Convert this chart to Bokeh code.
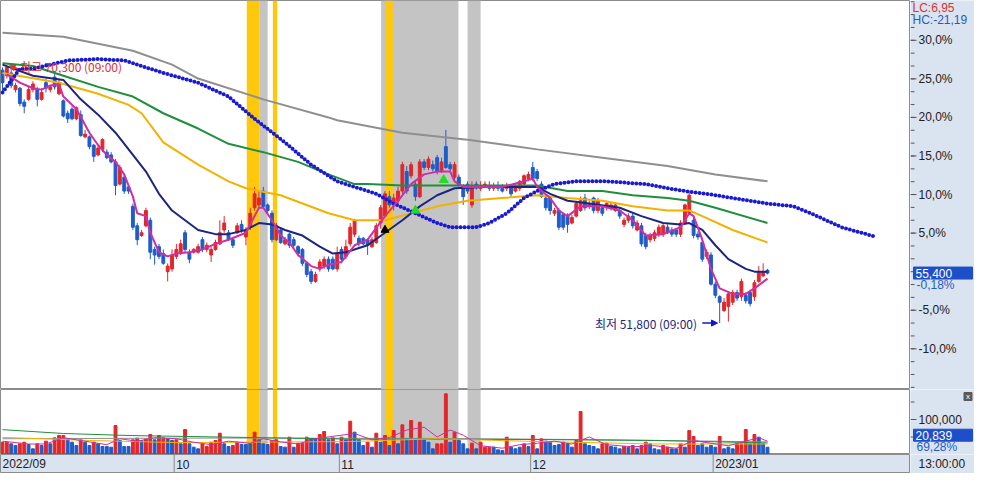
from bokeh.plotting import figure
from bokeh.layouts import column, row
from bokeh.models import Range1d, ColumnDataSource, BoxAnnotation, Arrow, NormalHead
from bokeh.core.properties import value
from bokeh.embed import file_html
from bokeh.resources import INLINE

# ---------------- data (half-day candles, 2022/09 .. 2023/01) ----------------
opens = [70000,69600,69800,68600,68700,67700,67900,68600,68600,67900,69100,68600,69500,68300,67800,66900,67200,66500,66800,65200,
         65200,64600,63900,64300,64100,63900,63400,61800,62300,61600,60200,58800,58100,58800,59200,57100,57300,56800,55500,55700,
         56600,56900,58300,56900,56900,56900,57800,57100,56700,57100,57500,58500,58300,57800,58300,58900,58000,58700,60100,60300,
         61300,60300,59700,57800,58500,57500,58200,57800,57300,57100,56100,55500,54800,55700,55900,56400,56400,55700,57100,56600,
         57500,58200,57900,57900,57800,57300,57600,59000,59500,60900,60300,60600,61300,62700,62400,61800,60900,63400,63000,63200,
         63700,62700,64500,63200,62300,62300,61700,61800,60300,61800,61500,61600,61700,61500,61700,61600,61500,61600,61300,61500,
         61800,62200,63000,62700,61800,60800,60800,59700,59900,59600,59500,59000,59500,59900,60800,60200,60800,59900,60100,60100,
         60100,59900,59900,58900,59200,59500,58500,58800,58100,57800,57900,58200,58200,58700,58500,58500,58200,59000,59700,59200,
         58200,57600,56600,56700,54600,53700,52700,53000,53300,54000,53700,53800,54000,53700,54800,55200,55600]
highs = [70200,70300,70100,69100,68800,67900,68800,69200,68800,68700,69400,68900,69800,69400,67900,67100,67400,67400,67100,65700,
         65300,64700,64600,65100,64300,64100,63600,63200,62500,61800,60400,59000,58500,60100,59400,57300,57500,57100,56100,57100,
         57500,57800,58500,57100,57200,57500,58000,57600,57300,57800,59200,59500,58500,58000,59000,59200,58700,60100,61600,61300,
         61600,60400,59900,59000,58700,58000,58300,58000,57400,57200,56200,55700,55500,56400,56600,56600,56600,57300,57300,57800,
         59000,59300,58100,58000,57900,58000,59000,60300,61300,61300,61100,61600,63400,63100,63400,62100,63600,63600,63800,63500,
         63900,63700,65700,63400,63400,62500,61800,62000,62000,62000,62000,62000,62000,61900,62000,61800,61900,61800,61800,62100,
         62500,62700,63400,62900,62000,61000,60900,60100,60100,59700,59700,59600,60600,60900,61100,60600,60900,60800,60300,60600,
         60500,60500,60100,59400,59700,59700,59200,59000,58300,58300,58500,58900,59000,58900,58700,58600,59200,60400,61200,59400,
         58400,57800,57100,56900,54800,53800,53600,54100,54200,54200,55000,54000,54200,54900,55900,56100,55700]
lows = [68300,69400,68700,68400,67400,66900,67800,68400,67400,67800,68400,68400,68600,68200,66600,66200,66400,66400,65200,65100,
        64300,63400,63800,64100,63600,63300,61000,61700,61100,61100,58500,57400,58000,58700,56400,56000,56400,56000,54800,55500,
        56400,56700,56900,56100,56800,56800,56900,56900,56200,57000,57400,58300,57700,57200,58200,58300,57400,58500,59900,60100,
        60100,59600,57600,57700,57500,57400,57200,57200,56600,55900,55100,54600,54700,55500,55700,55500,55600,55500,56100,56400,
        57300,58000,57300,57400,56700,57200,57500,58600,59400,60100,59900,60400,61100,61100,62200,60600,60800,62800,62800,62700,
        62500,62600,62900,62700,62100,61500,60300,61100,60100,61400,61300,61500,61300,61300,61300,61200,61300,60900,61200,61300,
        61700,62000,62000,62000,60800,59900,59600,59500,58500,58500,58300,58900,59400,59800,59900,60000,59700,59700,59500,59900,
        59900,59800,59300,58700,59000,58600,58400,57300,57100,57600,57700,58000,58000,58200,58000,58000,58000,58900,59600,57900,
        57800,56200,56400,54500,53600,51800,52600,51900,53100,53400,53400,53200,53000,53400,54700,55100,55300]
closes = [69100,70200,68900,68900,67600,67400,68600,69000,67900,68400,68700,68800,68800,69100,66700,66500,66500,67300,65300,65400,
          64500,63800,64400,65000,63700,63400,61700,63000,61300,61300,58700,57800,58300,59900,56900,56700,56600,56100,55900,56700,
          57100,57500,57100,56400,57100,57300,57100,57400,57100,57600,58300,59000,57800,57400,58800,58500,58500,59700,61100,60800,
          60200,59900,57800,58800,57600,57800,57400,57400,56800,56100,55300,54800,55300,56200,56400,55700,55700,56800,56400,57300,
          58700,59200,57500,57500,57400,57800,58800,60100,61100,60300,60800,61300,63200,61300,63200,60900,63400,63000,63600,62900,
          62700,63400,63000,62900,63200,61700,60900,61300,61700,61600,61700,61800,61500,61700,61500,61300,61700,61100,61700,62000,
          62400,62500,62200,62200,60900,60100,59900,59900,58700,58700,58900,59400,60400,60600,60100,60400,59900,60600,59700,60400,
          60300,60300,59500,59200,59500,58800,59000,57500,57300,58100,58300,58700,58800,58300,58200,58200,59000,60300,61000,58100,
          58000,56400,56900,54600,53800,53300,53300,53900,54000,53600,54800,53400,53200,54700,55500,55500,55400]
volumes = [35200,35200,30500,25700,30500,35200,28600,16200,30500,25700,38100,30500,47600,54300,54300,44700,35200,25700,41900,35200,
           25700,35200,30500,22800,22800,20900,82800,40000,22800,22800,41900,46600,40000,44700,57100,41900,54300,47600,44700,40000,
           41900,30500,71400,30500,20900,16200,30500,22800,35200,40000,60900,30500,22800,25700,35200,28600,28600,30500,63800,41900,
           30500,28600,40000,41900,22800,20900,49500,20900,32400,32400,49500,44700,44700,57100,65700,41900,47600,30500,49500,41900,
           95200,63800,41900,25700,35200,20900,60900,35200,54300,25700,68500,30500,84700,44700,97100,41900,92300,41900,35200,16200,
           30500,30500,173300,35200,63800,40000,30500,16200,32400,16200,35200,20900,20900,20900,13300,11400,49500,20900,16200,20900,
           30500,22800,54300,16200,44700,38100,35200,25700,28600,35200,30500,20900,40000,122800,30500,25700,22800,16200,30500,32400,
           22800,20900,16200,22800,20900,25700,16200,25700,35200,30500,16200,13300,25700,20900,16200,16200,30500,20900,68500,51400,
           25700,30500,20900,25700,20900,51400,16200,20900,16200,30500,30500,71400,30500,57100,49500,30500,20839]
# 1 = red (up) volume bar, 0 = blue (down) volume bar
vol_up = [1,1,0,0,1,1,0,0,1,0, 1,0,1,1,1,0,0,0,1,0, 0,1,0,0,0,0,1,0,0,0, 1,1,0,1,1,0,1,1,0,0,
          1,0,1,0,0,0,1,1,1,1, 1,0,0,1,1,0,0,0,1,0, 0,0,1,1,0,0,1,0,1,1, 1,0,0,1,1,0,1,0,1,0,
          1,0,0,0,1,0,1,0,1,0, 1,0,1,0,1,0,1,0,0,0, 1,1,1,0,1,0,0,0,1,0, 1,1,1,0,0,0,1,0,0,0,
          1,0,1,0,1,0,0,0,0,1, 0,0,1,1,0,0,0,0,1,1, 0,0,0,1,0,1,0,1,1,0, 0,0,1,1,0,0,1,0,1,
          1,0,0,0,0,0,1,0,0,0,1,1,1,0,1,0,0,0]

# moving-average lines (bar index, price)
ma5_idx = [1,4,7,9,11,13,14,17,20,22,24,26,28,30,31,33,34,36,38,40,43,46,49,52,56,58,59,60,62,64,66,68,71,73,75,78,81,84,88,91,94,97,100,103,104,106,109,115,120,122,123,126,128,130,133,138,142,145,148,152,156,158,159,161,163,165,168,171,173,176]
ma5_val = [69700,69100,68700,68600,68900,69000,68100,67200,65500,64600,63900,63400,62500,60900,59700,59500,58300,56900,56600,56800,56900,57100,57500,57800,58300,59500,60100,60100,59200,58100,57600,56700,55900,55700,56000,56200,57400,57800,59500,60600,61800,62500,62700,62700,62000,61600,61600,61600,62000,62200,61600,60800,59900,59500,60200,60200,59900,59200,58100,58200,58700,59700,59500,57800,55700,54300,53900,53900,54300,55000]
ma20_idx = [0,7,14,18,22,26,30,33,36,39,42,45,49,52,56,59,62,65,69,73,76,79,84,88,92,96,100,104,111,119,123,126,130,135,142,147,152,156,158,161,164,167,171,173,176]
ma20_val = [70400,69600,69300,67900,66800,65500,63900,62700,61100,59900,59200,58500,58200,58200,58500,59000,58900,58500,58100,57300,56800,56900,57400,58300,59200,60200,61000,61500,61600,61600,61600,61100,60600,60400,60100,59500,59000,58900,59000,58500,57400,56400,55700,55500,55500]
ma40_idx = [0,13,22,29,32,37,45,52,56,64,75,81,88,94,100,107,115,123,130,138,145,153,158,161,168,176]
ma40_val = [69800,69100,68300,67500,66900,64800,63200,62000,61500,61000,59700,59200,59200,59700,60200,60600,60800,61000,60800,60600,60200,59900,59900,59500,58500,57600]
ma60_idx = [0,7,14,22,30,37,45,52,60,68,75,81,84,92,100,107,115,123,130,138,145,153,158,164,176]
ma60_val = [70500,70300,69600,68800,68100,66900,65800,64700,64100,63400,62500,61800,61800,61700,61700,61700,61700,61700,61300,61300,61000,60800,60600,60100,59000]
ma120_idx = [0,14,30,39,45,60,75,77,92,107,123,138,153,164,176]
ma120_val = [72700,72400,71400,70400,69400,67900,66600,66400,65500,65000,64300,63700,63100,62500,62000]
lead_idx = [0,4,7,15,22,28,32,37,45,52,58,65,71,77,81,86,90,95,100,103,109,112,116,120,123,127,132,139,148,153,157,162,168,176,182,186,193,201]
lead_val = [68400,70100,70100,70700,70800,70700,70300,69800,69100,68100,66500,64800,63200,62000,61600,61100,60400,59700,59000,58700,58700,59000,59700,60800,61300,61800,62000,62000,61800,61500,61300,61100,60800,60400,60200,59700,58700,58000]

vma5_idx = [0,6,10,14,19,24,27,31,35,40,44,48,52,57,60,64,68,72,76,81,85,89,93,97,100,103,106,110,115,119,123,127,131,135,139,145,150,155,159,163,167,171,174,176]
vma5_val = [38000,30000,30000,48000,38000,28000,45000,38000,48000,45000,35000,28000,38000,32000,45000,36000,30000,45000,52000,60000,42000,48000,70000,78000,50000,70000,55000,25000,18000,28000,32000,38000,30000,50000,28000,22000,25000,18000,40000,32000,25000,38000,48000,38000]
vma20_idx = [0,20,40,80,100,120,150,176]
vma20_val = [49000,40000,34000,37000,45000,38000,30000,30000]
vma60_idx = [0,14,30,60,80,120,150,176]
vma60_val = [71000,60000,54000,48000,44000,43000,40000,33000]
vma120_idx = [0,50,100,140,176]
vma120_val = [45000,47000,46000,42000,36000]

# signal bands (bar ranges) and markers
gold_bands = [(56.2, 59.2), (62.2, 63.2), (88.0, 89.8)]
gray_bands = [(59.2, 61.0), (87.1, 104.9), (107.0, 110.0)]
buy_idx, buy_val = [88], [58500]
sig_idx, sig_val = [95, 101.5], [59900, 62100]

month_first = [0, 40, 78, 122, 164]
month_labels = ["2022/09", "10", "11", "12", "2023/01"]
cursor_time = "13:00:00"
vol_ratio_text = "69,28%"

BASE = 55500
HIGH, LOW, LAST = 70300, 51800, 55400

# ---------------- styling / layout ----------------
RED, BLUE = "#e3262a", "#1f5cc8"
BOXBLUE = "#1f4fc8"
AXIS_BG = "#dae3f0"
EDGE = "#8c8c8c"
FONT = "Liberation Sans"
KFONT = "Noto Sans CJK KR"
X0, X1 = -0.46, 208.9
MW, AW = 910, 64          # main width, axis strip width
PH, VH, DH = 389, 65, 19  # price, volume, date heights
P_LO, P_HI = 47020, 75014
V_HI = 185700

n = len(closes)
xs = list(range(n))
cols = [RED if c >= o else BLUE for o, c in zip(opens, closes)]
vcols = [RED if u else BLUE for u in vol_up]
src = ColumnDataSource(dict(x=xs, o=opens, h=highs, l=lows, c=closes,
                            top=[max(o, c) for o, c in zip(opens, closes)],
                            bot=[min(o, c) for o, c in zip(opens, closes)],
                            col=cols, v=volumes, vcol=vcols))

def fig(w, h, xr, yr, bg="white", outline=EDGE):
    f = figure(width=w, height=h, x_range=xr, y_range=yr, output_backend="svg",
               toolbar_location=None, x_axis_location=None, y_axis_location=None,
               min_border=0, min_border_left=0, min_border_right=0,
               min_border_top=0, min_border_bottom=0)
    f.grid.visible = False
    f.background_fill_color = bg
    f.border_fill_color = bg
    f.outline_line_color = outline
    return f

def bands(f):
    for a, b in gray_bands:
        f.add_layout(BoxAnnotation(left=a, right=b, fill_color="#c4c4c4", fill_alpha=1,
                                   line_alpha=0, level="underlay"))
    for a, b in gold_bands:
        f.add_layout(BoxAnnotation(left=a, right=b, fill_color="#ffc80a", fill_alpha=1,
                                   line_alpha=0, level="underlay"))

def txt(f, x, y, s, color="#222222", size="12px", align="left", font=FONT, xo=0):
    f.text(x=[x], y=[y], text=[s], text_color=color, text_font=value(font),
           text_font_size=size, text_align=align, text_baseline="middle", x_offset=xo)

# ---------------- price panel ----------------
xr = Range1d(X0, X1)
p = fig(MW, PH, xr, Range1d(P_LO, P_HI))
bands(p)
p.segment(x0="x", y0="h", x1="x", y1="l", color="col", line_width=1, source=src)
p.vbar(x="x", width=0.66, top="top", bottom="bot", fill_color="col", line_color="col", source=src)
p.line(ma120_idx, ma120_val, color="#8f8f8f", line_width=2)
p.line(ma60_idx, ma60_val, color="#1f8f3c", line_width=2)
p.line(ma40_idx, ma40_val, color="#f2b200", line_width=2)
p.line(ma20_idx, ma20_val, color="#1c2680", line_width=2)
p.line(lead_idx, lead_val, color="#1a1ad0", line_width=4, line_dash="0 4", line_cap="round")
p.line(ma5_idx, ma5_val, color="#cc2fa6", line_width=2)
p.scatter(buy_idx, buy_val, marker="triangle", size=8, color="black")
p.scatter(sig_idx, sig_val, marker="triangle", size=9, color="#22dd22")

txt(p, 4, HIGH, f"최고 {HIGH:,} (09:00)", color="#e03030", font=KFONT)
p.add_layout(Arrow(end=NormalHead(size=6, fill_color="#e03030", line_color="#e03030"),
                   x_start=3.6, y_start=HIGH - 200, x_end=1.5, y_end=HIGH,
                   line_color="#e03030", line_width=1.5))
txt(p, 159.8, LOW, f"최저 {LOW:,} (09:00)", color="#1c2680", align="right", font=KFONT)
p.add_layout(Arrow(end=NormalHead(size=6, fill_color="#1414c8", line_color="#1414c8"),
                   x_start=161.0, y_start=LOW, x_end=164.5, y_end=LOW,
                   line_color="#1414c8", line_width=1.5))

# price axis strip
ppx = (P_HI - P_LO) / PH
pa = fig(AW, PH, Range1d(0, AW), p.y_range, bg=AXIS_BG, outline=None)
pct_major = [k for k in (-10, -5, 5, 10, 15, 20, 25, 30)]
major_y = [BASE * (1 + k / 100) for k in pct_major]
minor_y = [BASE + 925 * m for m in range(-9, 22)]
pa.segment(x0=0, y0=minor_y, x1=4, y1=minor_y, color="#555555", line_width=1)
pa.segment(x0=0, y0=major_y, x1=6, y1=major_y, color="#555555", line_width=1)
pa.text(x=8, y=major_y, text=[f"{k},0%" for k in pct_major], text_color="#222222",
        text_font=value(FONT), text_font_size="12px", text_baseline="middle")
lc = (LAST / LOW - 1) * 100
hc = (LAST / HIGH - 1) * 100
txt(pa, 2, P_HI - 7 * ppx, f"LC:{lc:.2f}".replace(".", ","), color="#e03030")
txt(pa, 2, P_HI - 19 * ppx, f"HC:{hc:.2f}".replace(".", ","), color=BLUE)
pa.rect(x=[32.5], y=[LAST], width=59, height=12 * ppx, fill_color=BOXBLUE, line_color=BOXBLUE)
txt(pa, 5, LAST, f"{LAST:,}", color="white")
chg = (LAST / BASE - 1) * 100
txt(pa, 6, LAST - 12 * ppx, f"{chg:.2f}%".replace(".", ","), color=BLUE)

# ---------------- volume panel ----------------
v = fig(MW, VH, xr, Range1d(0, V_HI))
bands(v)
v.vbar(x="x", width=0.66, top="v", bottom=0, fill_color="vcol", line_color="vcol", source=src)
v.line(vma120_idx, vma120_val, color="#8f8f8f", line_width=1)
v.line(vma60_idx, vma60_val, color="#1f8f3c", line_width=1)
v.line(vma20_idx, vma20_val, color="#f2b200", line_width=1)
v.line(vma5_idx, vma5_val, color="#cc2fa6", line_width=1)

vpx = V_HI / VH
va = fig(AW, VH, Range1d(0, AW), v.y_range, bg=AXIS_BG, outline=None)
va.segment(x0=0, y0=[50000, 150000], x1=4, y1=[50000, 150000], color="#555555")
va.segment(x0=0, y0=[100000], x1=6, y1=[100000], color="#555555")
txt(va, 8, 100000, "100,000")
lastv = volumes[-1]
va.rect(x=[32.5], y=[lastv + 12 * vpx], width=59, height=12 * vpx, fill_color=BOXBLUE, line_color=BOXBLUE)
txt(va, 5, lastv + 12 * vpx, f"{lastv:,}", color="white")
txt(va, 6, lastv, vol_ratio_text, color=BLUE)
va.rect(x=[57.5], y=[V_HI - 7 * vpx], width=8, height=8 * vpx, fill_color="#5a5a5a", line_color="#5a5a5a")
txt(va, 57.5, V_HI - 7 * vpx, "x", color="white", size="8px", align="center")

# ---------------- date strip ----------------
da = fig(MW, DH, xr, Range1d(0, DH), bg=AXIS_BG, outline=EDGE)
seps = [m - 0.5 for m in month_first[1:]]
da.segment(x0=seps, y0=0, x1=seps, y1=DH, color=EDGE, line_width=1)
lab_x = [X0] + seps
da.text(x=lab_x, y=DH / 2, text=month_labels, text_color="#222222", text_font=value(FONT),
        text_font_size="12px", text_baseline="middle", x_offset=2)
dc = fig(AW, DH, Range1d(0, AW), Range1d(0, DH), bg=AXIS_BG, outline=None)
txt(dc, 8, DH / 2, cursor_time)

layout = column(row(p, pa), row(v, va), row(da, dc))
open("out.html", "w").write(file_html(layout, INLINE))
